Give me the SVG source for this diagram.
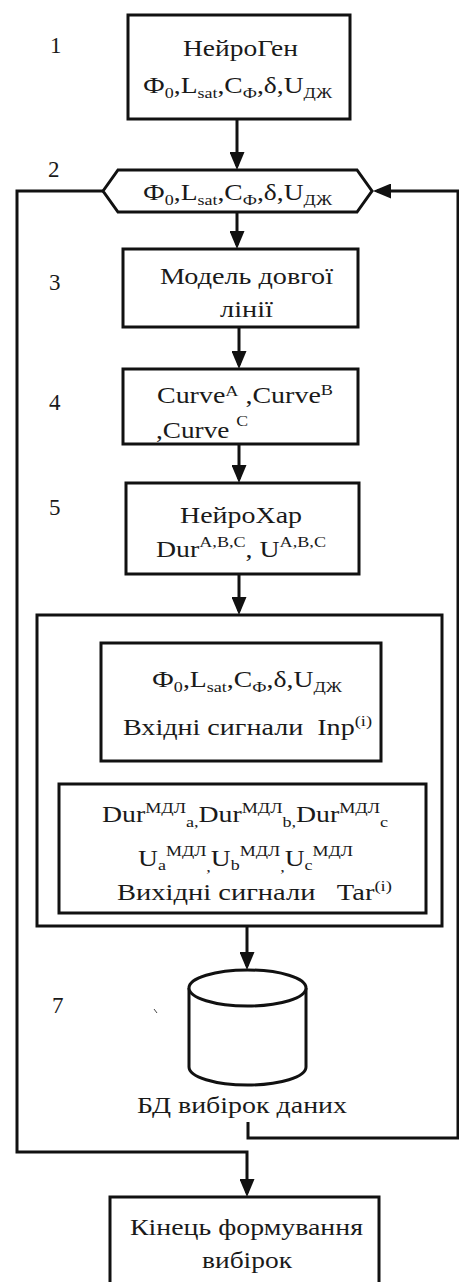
<svg xmlns="http://www.w3.org/2000/svg" width="459" height="1282" viewBox="0 0 459 1282">
  <style>
    .box { fill: #fff; stroke: #111; stroke-width: 3; }
    .ln { fill: none; stroke: #111; stroke-width: 3; }
    .t { font-family: "Liberation Serif", "Times New Roman", serif; font-size: 23px; fill: #1a1a1a; }
    .s { font-size: 15px; }
    .num { font-family: "Liberation Serif", "Times New Roman", serif; font-size: 23px; fill: #1a1a1a; }
  </style>
  <defs>
    <marker id="arrow" markerUnits="userSpaceOnUse" markerWidth="18" markerHeight="15" refX="14" refY="7.5" orient="auto">
      <path d="M0,0 L18,7.5 L0,15 z" fill="#111"/>
    </marker>
  </defs>
  <rect width="459" height="1282" fill="#fff"/>

  <!-- connectors -->
  <g id="connectors">
    <line class="ln" x1="237" y1="119" x2="237" y2="166" marker-end="url(#arrow)"/>
    <line class="ln" x1="237" y1="212" x2="237" y2="245" marker-end="url(#arrow)"/>
    <line class="ln" x1="239" y1="327" x2="239" y2="365" marker-end="url(#arrow)"/>
    <line class="ln" x1="239" y1="444" x2="239" y2="479" marker-end="url(#arrow)"/>
    <line class="ln" x1="239" y1="574" x2="239" y2="611" marker-end="url(#arrow)"/>
    <line class="ln" x1="247" y1="926" x2="247" y2="966" marker-end="url(#arrow)"/>
    <!-- loop back from the sample database to the parameter block -->
    <path class="ln" d="M248,1122 V1138 H458 V191 H377" marker-end="url(#arrow)"/>
    <!-- exit branch to the final block -->
    <path class="ln" d="M103,191 H17 V1152 H247 V1193" marker-end="url(#arrow)"/>
  </g>

  <!-- step numbers -->
  <g id="labels">
    <text class="num" x="50" y="53">1</text>
    <text class="num" x="48" y="177">2</text>
    <text class="num" x="49" y="290">3</text>
    <text class="num" x="49" y="410">4</text>
    <text class="num" x="49" y="515">5</text>
    <text class="num" x="46" y="657">6</text>
    <text class="num" x="52" y="1013">7</text>
    <line x1="154" y1="1009" x2="157" y2="1013" stroke="#444" stroke-width="1"/>
  </g>

  <g id="n1">
    <rect class="box" x="128" y="15" width="222" height="104"/>
    <text class="t" x="183" y="56" textLength="115" lengthAdjust="spacingAndGlyphs">НейроГен</text>
    <text class="t" x="143" y="93" textLength="189" lengthAdjust="spacingAndGlyphs">Ф<tspan class="s" dy="5">0</tspan><tspan dy="-5">,L</tspan><tspan class="s" dy="5">sat</tspan><tspan dy="-5">,C</tspan><tspan class="s" dy="5">Ф</tspan><tspan dy="-5">,δ,U</tspan><tspan class="s" dy="5">ДЖ</tspan></text>
  </g>

  <g id="n2">
    <polygon class="box" points="103,191 118,170 357,170 372,191 357,212 118,212"/>
    <text class="t" x="143" y="200" textLength="189" lengthAdjust="spacingAndGlyphs">Ф<tspan class="s" dy="5">0</tspan><tspan dy="-5">,L</tspan><tspan class="s" dy="5">sat</tspan><tspan dy="-5">,C</tspan><tspan class="s" dy="5">Ф</tspan><tspan dy="-5">,δ,U</tspan><tspan class="s" dy="5">ДЖ</tspan></text>
  </g>

  <g id="n3">
    <rect class="box" x="123" y="249" width="235" height="78"/>
    <text class="t" x="160" y="284" textLength="173" lengthAdjust="spacingAndGlyphs">Модель довгої</text>
    <text class="t" x="220" y="317" textLength="53" lengthAdjust="spacingAndGlyphs">лінії</text>
  </g>

  <g id="n4">
    <rect class="box" x="123" y="369" width="235" height="75"/>
    <text class="t" x="157" y="403" textLength="176" lengthAdjust="spacingAndGlyphs" xml:space="preserve">Curve<tspan class="s" dy="-7">A</tspan><tspan dy="7"> ,Curve</tspan><tspan class="s" dy="-8">B</tspan></text>
    <text class="t" x="156" y="438" textLength="92" lengthAdjust="spacingAndGlyphs" xml:space="preserve">,Curve <tspan class="s" dy="-12">C</tspan></text>
  </g>

  <g id="n5">
    <rect class="box" x="126" y="483" width="233" height="91"/>
    <text class="t" x="180" y="523" textLength="122" lengthAdjust="spacingAndGlyphs">НейроХар</text>
    <text class="t" x="156" y="557" textLength="170" lengthAdjust="spacingAndGlyphs" xml:space="preserve">Dur<tspan class="s" dy="-10">A,B,C</tspan><tspan dy="10">, U</tspan><tspan class="s" dy="-10">A,B,C</tspan></text>
  </g>

  <g id="n6">
    <rect class="box" x="37" y="615" width="405" height="311"/>
    <g id="n6-inputs">
      <rect class="box" x="101" y="643" width="280" height="118"/>
      <text class="t" x="152" y="687" textLength="190" lengthAdjust="spacingAndGlyphs">Ф<tspan class="s" dy="5">0</tspan><tspan dy="-5">,L</tspan><tspan class="s" dy="5">sat</tspan><tspan dy="-5">,C</tspan><tspan class="s" dy="5">Ф</tspan><tspan dy="-5">,δ,U</tspan><tspan class="s" dy="5">ДЖ</tspan></text>
      <text class="t" x="123" y="735" textLength="249" lengthAdjust="spacingAndGlyphs" xml:space="preserve">Вхідні сигнали  Inp<tspan class="s" dy="-9">(i)</tspan></text>
    </g>
    <g id="n6-targets">
      <rect class="box" x="59" y="784" width="367" height="129"/>
      <text class="t" x="102" y="822" textLength="286" lengthAdjust="spacingAndGlyphs">Dur<tspan class="s" dy="-9">МДЛ</tspan><tspan class="s" dy="14">a,</tspan><tspan dy="-5">Dur</tspan><tspan class="s" dy="-9">МДЛ</tspan><tspan class="s" dy="14">b,</tspan><tspan dy="-5">Dur</tspan><tspan class="s" dy="-9">МДЛ</tspan><tspan class="s" dy="14">c</tspan></text>
      <text class="t" x="138" y="866" textLength="215" lengthAdjust="spacingAndGlyphs">U<tspan class="s" dy="4">a</tspan><tspan class="s" dy="-14">МДЛ</tspan><tspan class="s" dy="16">,</tspan><tspan dy="-6">U</tspan><tspan class="s" dy="4">b</tspan><tspan class="s" dy="-14">МДЛ</tspan><tspan class="s" dy="16">,</tspan><tspan dy="-6">U</tspan><tspan class="s" dy="4">c</tspan><tspan class="s" dy="-14">МДЛ</tspan></text>
      <text class="t" x="117" y="900" textLength="275" lengthAdjust="spacingAndGlyphs" xml:space="preserve">Вихідні сигнали   Tar<tspan class="s" dy="-9">(i)</tspan></text>
    </g>
  </g>

  <g id="n7">
    <path class="box" d="M189,988 V1067 A58.5,18 0 0 0 306,1067 V988"/>
    <ellipse class="box" cx="247.5" cy="988" rx="58.5" ry="18"/>
    <text class="t" x="137" y="1113" textLength="210" lengthAdjust="spacingAndGlyphs">БД вибірок даних</text>
  </g>

  <g id="n8">
    <rect class="box" x="110" y="1197" width="269" height="100"/>
    <text class="t" x="130" y="1235" textLength="233" lengthAdjust="spacingAndGlyphs">Кінець формування</text>
    <text class="t" x="202" y="1268" textLength="90" lengthAdjust="spacingAndGlyphs">вибірок</text>
  </g>
</svg>
